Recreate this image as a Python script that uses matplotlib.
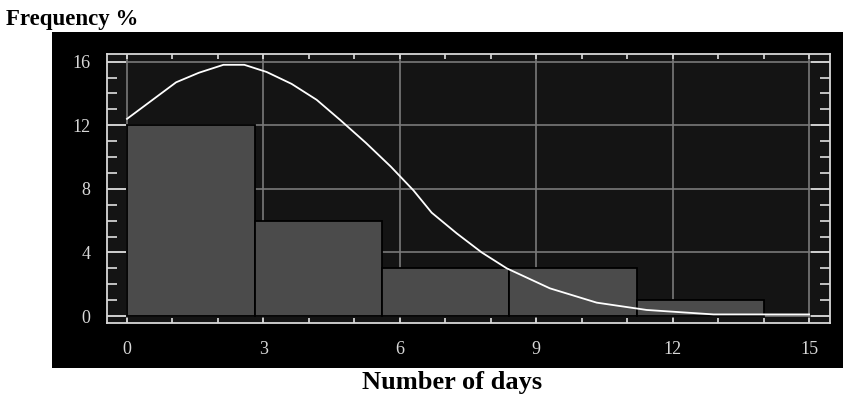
import matplotlib
matplotlib.use("Agg")
import matplotlib.pyplot as plt
from matplotlib.patches import Rectangle
from matplotlib.ticker import MultipleLocator

# Data
bin_edges = [0.0, 2.82, 5.6, 8.4, 11.22, 14.0]
bin_freq = [12, 6, 3, 3, 1]
curve_x = [0, 1.08, 1.58, 2.12, 2.58, 3.07, 3.62, 4.17, 4.7, 5.25, 5.8, 6.3, 6.7,
           7.25, 7.8, 8.35, 9.3, 10.33, 11.43, 12.9, 15.0]
curve_y = [12.4, 14.7, 15.3, 15.8, 15.8, 15.35, 14.6, 13.6, 12.3, 10.9, 9.4, 7.9, 6.5,
           5.2, 4.0, 3.0, 1.74, 0.84, 0.38, 0.1, 0.1]
x_ticks = [0, 3, 6, 9, 12, 15]
y_ticks = [0, 4, 8, 12, 16]
x_label = "Number of days"
y_label = "Frequency %"

W, H = 843, 398
fig = plt.figure(figsize=(W / 100, H / 100), dpi=100)
fig.patch.set_facecolor("white")
bg = Rectangle((52 / W, 1 - 368 / H), (843 - 52) / W, (368 - 32) / H,
               transform=fig.transFigure, facecolor="black",
               edgecolor="none", zorder=-10)
fig.add_artist(bg)

ax = fig.add_axes([107 / W, 1 - 323 / H, (830 - 107) / W, (323 - 54) / H])
ax.set_zorder(1)
ax.set_facecolor("#141414")
ax.set_axisbelow(True)

widths = [bin_edges[i + 1] - bin_edges[i] for i in range(len(bin_freq))]
ax.bar(bin_edges[:-1], bin_freq, width=widths, align="edge",
       color="#4b4b4b", edgecolor="black", linewidth=1.3, zorder=2)
ax.plot(curve_x, curve_y, color="white", linewidth=1.3, zorder=3)

ax.set_xlim(-0.44, 15.46)
ax.set_ylim(-0.44, 16.48)
ax.set_xticks(x_ticks)
ax.set_yticks(y_ticks)
ax.xaxis.set_minor_locator(MultipleLocator(1))
ax.yaxis.set_minor_locator(MultipleLocator(1))
ax.grid(True, which="major", color="#7a7a7a", linewidth=1.2)

for s in ax.spines.values():
    s.set_color("#d8d8d8")
    s.set_linewidth(1.3)

ax.tick_params(axis="x", which="both", direction="in", top=True, bottom=True,
               color="#e0e0e0", length=3.5, width=1.2, labelcolor="#d8d8d8",
               labelsize=13, pad=13)
ax.tick_params(axis="y", which="major", direction="in", left=True, right=True,
               color="#e0e0e0", length=14, width=1.2, labelcolor="#d8d8d8",
               labelsize=13, pad=12)
ax.tick_params(axis="y", which="minor", direction="in", left=True, right=True,
               color="#e0e0e0", length=7, width=1.2)
for lab in ax.get_xticklabels() + ax.get_yticklabels():
    lab.set_fontfamily("Liberation Serif")

fig.text(6 / W, 1 - 20 / H, y_label, fontsize=16.5, fontweight="bold",
         family="Liberation Serif", ha="left", va="center", color="black")
fig.text(452 / W, 1 - 383 / H, x_label, fontsize=19, fontweight="bold",
         family="Liberation Serif", ha="center", va="center", color="black")

fig.savefig("out.png", dpi=100, facecolor="white")
